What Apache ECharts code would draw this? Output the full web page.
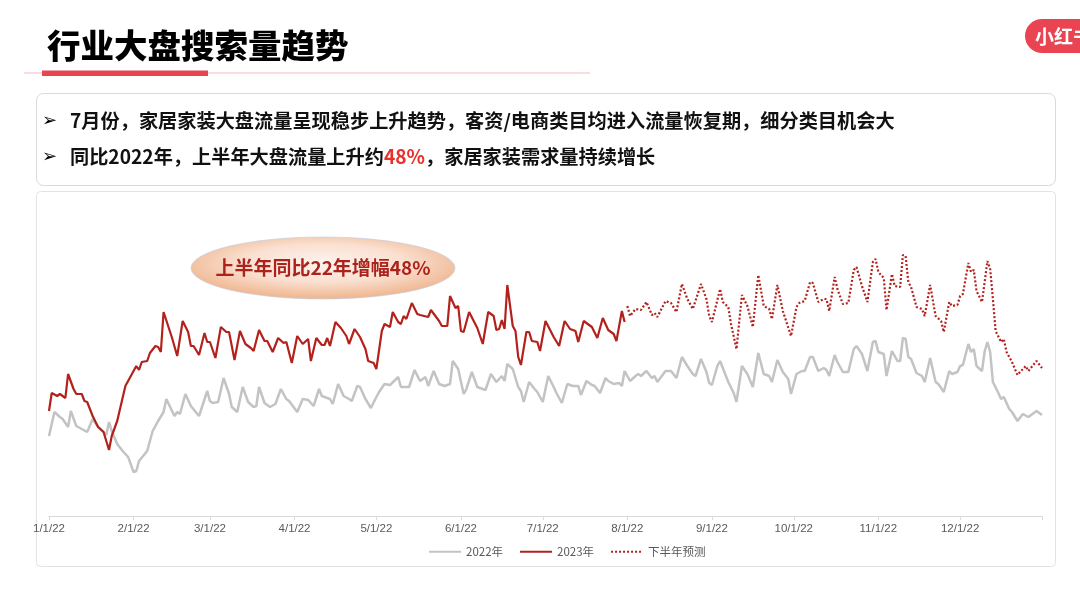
<!DOCTYPE html>
<html lang="zh">
<head>
<meta charset="UTF-8">
<title>行业大盘搜索量趋势</title>
<script src="https://cdn.jsdelivr.net/npm/echarts@6.0.0/dist/echarts.min.js"></script>
<style>
  html, body { margin: 0; padding: 0; background: #fff; }
  #main { width: 1080px; height: 594px; }
</style>
</head>
<body>
<div id="main"></div>
<script>
    // x axis: day of year (0 = 1/1/22), month ticks
    var monthStarts = [0, 31, 59, 90, 120, 151, 181, 212, 243, 273, 304, 334];
    var monthLabels = ['1/1/22', '2/1/22', '3/1/22', '4/1/22', '5/1/22', '6/1/22',
        '7/1/22', '8/1/22', '9/1/22', '10/1/22', '11/1/22', '12/1/22'];
    var seriesNames = ['2022年', '2023年', '下半年预测'];

    // 2022 search index
    var days2022 = [0, 2, 4, 5, 7, 8, 10, 12, 14, 16, 18, 20, 21, 22, 23, 25, 27, 29, 31, 32, 33, 36, 38, 40, 42, 43, 46, 47, 48, 50,
        52, 55, 58, 59, 60, 62, 64, 66, 67, 69, 71, 73, 75, 76, 77, 79, 81, 83, 85, 87, 88, 91, 93, 95, 97, 99, 100, 103, 104, 106,
        108, 110, 111, 113, 114, 116, 118, 120, 121, 123, 125, 128, 129, 131, 132, 134, 136, 138, 139, 141, 143, 145, 147, 148, 150, 152, 153, 155, 157, 160,
        162, 164, 166, 167, 168, 170, 172, 173, 174, 176, 178, 179, 181, 183, 185, 186, 188, 190, 192, 194, 195, 197, 199, 200, 202, 204, 205, 207, 209, 210,
        211, 213, 215, 216, 217, 219, 221, 222, 223, 226, 228, 230, 232, 234, 236, 237, 239, 241, 242, 243, 245, 246, 249, 251, 252, 254, 256, 258, 260, 262,
        264, 265, 267, 269, 271, 272, 274, 276, 277, 279, 280, 282, 284, 285, 286, 288, 289, 291, 293, 295, 296, 298, 300, 302, 303, 304, 306, 307, 309, 311,
        312, 313, 314, 315, 316, 318, 320, 321, 323, 325, 326, 328, 330, 331, 333, 334, 335, 337, 338, 339, 340, 342, 343, 344, 345, 346, 348, 349, 350, 352,
        353, 355, 357, 359, 362, 364];
    var vals2022 = [80, 104, 99, 97, 89, 105, 90, 87, 84, 97, 89, 84, 81, 94, 85, 72, 65, 59, 44, 45, 55, 65, 85, 95, 104, 117, 100, 104, 102, 122,
        110, 100, 125, 115, 113, 114, 138, 122, 109, 104, 129, 114, 109, 110, 129, 113, 109, 112, 127, 117, 115, 104, 117, 116, 110, 127, 120, 117, 112, 132,
        120, 117, 115, 130, 129, 117, 108, 119, 124, 132, 131, 139, 129, 129, 129, 146, 135, 139, 130, 145, 132, 130, 132, 155, 147, 122, 127, 144, 129, 126,
        142, 134, 140, 135, 152, 147, 129, 125, 114, 134, 127, 124, 114, 140, 129, 123, 113, 132, 130, 130, 121, 135, 131, 130, 123, 138, 135, 132, 133, 130,
        145, 135, 140, 142, 140, 145, 138, 140, 134, 145, 145, 138, 159, 150, 142, 140, 157, 144, 133, 131, 150, 155, 134, 123, 114, 150, 142, 129, 163, 142,
        140, 134, 156, 144, 137, 122, 142, 145, 145, 159, 159, 145, 148, 146, 140, 161, 154, 144, 144, 167, 170, 162, 145, 174, 175, 164, 162, 140, 165, 155,
        155, 178, 177, 159, 157, 143, 140, 134, 158, 134, 132, 124, 145, 142, 144, 150, 151, 172, 164, 167, 150, 145, 165, 174, 164, 134, 123, 117, 119, 107,
        104, 95, 102, 99, 105, 101];

    // 2023 actual (Jan - Jul)
    var days2023 = [0, 1, 3, 4, 6, 7, 9, 10, 12, 13, 14, 16, 18, 20, 22, 23, 25, 28, 30, 32, 33, 34, 36, 37, 39, 40, 41, 42, 45, 47,
        49, 51, 52, 53, 55, 57, 58, 59, 61, 63, 65, 66, 68, 70, 72, 74, 75, 77, 79, 80, 82, 84, 86, 87, 89, 91, 93, 95, 96, 98,
        100, 101, 102, 103, 105, 107, 109, 110, 112, 114, 116, 117, 119, 120, 122, 123, 125, 126, 128, 129, 130, 131, 133, 135, 136, 139, 140, 143, 144, 146,
        147, 149, 150, 151, 152, 154, 157, 159, 161, 163, 164, 165, 166, 167, 168, 170, 171, 172, 173, 175, 176, 177, 179, 180, 182, 185, 187, 189, 191, 193,
        194, 196, 199, 201, 203, 205, 207, 208, 210, 211];
    var vals2023 = [105, 123, 120, 122, 118, 142, 127, 122, 122, 115, 114, 100, 89, 84, 66, 80, 95, 130, 140, 150, 146, 154, 155, 163, 170, 169, 164, 204, 179, 160,
        195, 184, 170, 170, 161, 183, 174, 174, 158, 189, 184, 184, 156, 185, 172, 168, 165, 186, 175, 175, 164, 178, 173, 174, 153, 180, 172, 177, 155, 178,
        171, 171, 178, 170, 194, 188, 180, 172, 187, 179, 167, 155, 153, 147, 185, 192, 189, 204, 194, 192, 200, 197, 213, 202, 201, 199, 206, 195, 190, 190,
        220, 208, 210, 185, 184, 204, 188, 172, 204, 200, 186, 187, 196, 187, 231, 190, 185, 159, 151, 184, 184, 175, 174, 165, 195, 179, 170, 195, 187, 185,
        174, 195, 189, 178, 198, 186, 182, 175, 205, 194];

    // second-half forecast (Aug - Dec)
    var daysForecast = [212, 213, 215, 217, 219, 221, 222, 223, 226, 228, 230, 232, 234, 236, 239, 241, 242, 243, 246, 247, 249, 250, 252, 254, 256, 258, 260, 262, 264, 265,
        267, 269, 272, 274, 275, 277, 279, 280, 282, 284, 285, 286, 288, 289, 291, 293, 295, 296, 298, 300, 302, 303, 304, 306, 307, 308, 309, 310, 312, 313,
        314, 315, 316, 318, 320, 321, 323, 325, 327, 328, 330, 331, 333, 334, 335, 337, 338, 339, 340, 342, 344, 345, 346, 347, 349, 350, 351, 353, 355, 358,
        359, 362, 364];
    var valsForecast = [210, 200, 207, 206, 214, 201, 203, 199, 215, 213, 204, 232, 217, 207, 232, 217, 200, 194, 227, 214, 209, 192, 167, 221, 210, 189, 241, 210, 207, 197,
        231, 205, 180, 209, 213, 215, 234, 233, 214, 217, 217, 205, 239, 227, 212, 213, 246, 249, 230, 214, 254, 257, 244, 238, 206, 224, 242, 230, 229, 261,
        260, 234, 229, 209, 207, 200, 231, 200, 195, 184, 214, 210, 211, 220, 222, 253, 244, 246, 225, 214, 255, 247, 217, 185, 174, 177, 164, 154, 141, 150,
        145, 155, 148];

    function zip(days, vals) {
        return days.map(function (d, i) { return [d, vals[i]]; });
    }

    var cjk = '"Noto Sans CJK SC", "DejaVu Sans", sans-serif';
    var red = '#b3211c';

    var myChart = echarts.init(document.getElementById('main'), null, { renderer: 'canvas' });

    var option = {
        animation: false,
        backgroundColor: '#ffffff',
        grid: { left: 49, right: 38, top: 216, bottom: 78, containLabel: false },
        legend: {
            left: 423,
            top: 541,
            itemWidth: 32,
            itemHeight: 10,
            itemGap: 16,
            itemStyle: { opacity: 0 },
            textStyle: { color: '#595959', fontSize: 11.5, fontFamily: cjk },
            data: seriesNames
        },
        xAxis: {
            type: 'value',
            min: 0,
            max: 364,
            axisLine: { lineStyle: { color: '#d9d9d9', width: 1 } },
            axisTick: {
                show: true,
                length: 4,
                customValues: monthStarts.concat([364]),
                lineStyle: { color: '#d9d9d9' }
            },
            axisLabel: {
                customValues: monthStarts,
                color: '#595959',
                fontSize: 11.5,
                margin: 7,
                fontFamily: '"Liberation Sans", Arial, sans-serif',
                formatter: function (v) {
                    var i = monthStarts.indexOf(v);
                    return i >= 0 ? monthLabels[i] : '';
                }
            },
            splitLine: { show: false }
        },
        yAxis: {
            type: 'value',
            min: 0,
            max: 300,
            show: false,
            splitLine: { show: false }
        },
        series: [
            {
                name: seriesNames[0],
                type: 'line',
                symbol: 'none',
                z: 2,
                lineStyle: { color: '#c3c3c3', width: 2.5 },
                itemStyle: { color: '#c3c3c3' },
                data: zip(days2022, vals2022)
            },
            {
                name: seriesNames[1],
                type: 'line',
                symbol: 'none',
                z: 3,
                lineStyle: { color: red, width: 2.2 },
                itemStyle: { color: red },
                data: zip(days2023, vals2023)
            },
            {
                name: seriesNames[2],
                type: 'line',
                symbol: 'none',
                z: 3,
                lineStyle: { color: red, width: 2.2, type: [2, 2] },
                itemStyle: { color: red },
                data: zip(daysForecast, valsForecast)
            }
        ],
        graphic: [
            // title
            {
                type: 'text', x: 47, y: 45,
                style: {
                    text: '行业大盘搜索量趋势', fill: '#000',
                    font: '900 33.5px ' + cjk, verticalAlign: 'middle'
                }
            },
            {
                type: 'line',
                shape: { x1: 24, y1: 73, x2: 590, y2: 73 },
                style: { stroke: '#f6b9bc', lineWidth: 1 }
            },
            {
                type: 'rect',
                shape: { x: 42, y: 70.5, width: 166, height: 5.5 },
                style: { fill: '#e8464e' }
            },
            // logo pill
            {
                type: 'rect',
                shape: { x: 1025, y: 19, width: 100, height: 34, r: 17 },
                style: { fill: '#ea4452' }
            },
            {
                type: 'text', x: 1035, y: 37,
                style: {
                    text: '小红书', fill: '#fff',
                    font: 'bold 19px ' + cjk, verticalAlign: 'middle'
                }
            },
            // bullet box
            {
                type: 'rect',
                shape: { x: 36.5, y: 93.5, width: 1019, height: 92, r: 7 },
                style: { fill: 'none', stroke: '#d9d9d9', lineWidth: 1 }
            },
            {
                type: 'text', x: 42, y: 121,
                style: { text: '➢', fill: '#000', font: 'bold 18px "DejaVu Sans", sans-serif', verticalAlign: 'middle' }
            },
            {
                type: 'text', x: 70, y: 121,
                style: {
                    text: '7月份，家居家装大盘流量呈现稳步上升趋势，客资/电商类目均进入流量恢复期，细分类目机会大',
                    fill: '#111', font: 'bold 19.2px ' + cjk, verticalAlign: 'middle'
                }
            },
            {
                type: 'text', x: 42, y: 157,
                style: { text: '➢', fill: '#000', font: 'bold 18px "DejaVu Sans", sans-serif', verticalAlign: 'middle' }
            },
            {
                type: 'text', x: 70, y: 157,
                style: {
                    text: '{b|同比2022年，上半年大盘流量上升约}{r|48%}{b|，家居家装需求量持续增长}',
                    verticalAlign: 'middle',
                    rich: {
                        b: { fill: '#111', color: '#111', fontSize: 19.2, fontWeight: 'bold', fontFamily: cjk },
                        r: { fill: '#e8302c', color: '#e8302c', fontSize: 19.2, fontWeight: 'bold', fontFamily: cjk }
                    }
                }
            },
            // chart box
            {
                type: 'rect',
                shape: { x: 36.5, y: 191.5, width: 1019, height: 375, r: 4 },
                style: { fill: 'none', stroke: '#e3e3e3', lineWidth: 1 },
                z: -1
            },
            // annotation bubble (circle squashed into an ellipse so the gradient follows it)
            {
                type: 'circle',
                x: 323, y: 268,
                scaleY: 31 / 132,
                shape: { cx: 0, cy: 0, r: 132 },
                style: {
                    fill: {
                        type: 'radial', x: 0.5, y: 0.42, r: 0.55,
                        colorStops: [
                            { offset: 0, color: '#fdf4ef' },
                            { offset: 0.55, color: '#fae0d1' },
                            { offset: 1, color: '#f0b994' }
                        ]
                    },
                    stroke: '#bcd0ea', lineWidth: 1, strokeNoScale: true
                },
                z: 10
            },
            {
                type: 'text', x: 323, y: 268,
                style: {
                    text: '上半年同比22年增幅48%', fill: '#ad231c',
                    font: 'bold 19px ' + cjk, align: 'center', verticalAlign: 'middle'
                },
                z: 11
            }
        ]
    };

    myChart.setOption(option);
</script>
</body>
</html>
